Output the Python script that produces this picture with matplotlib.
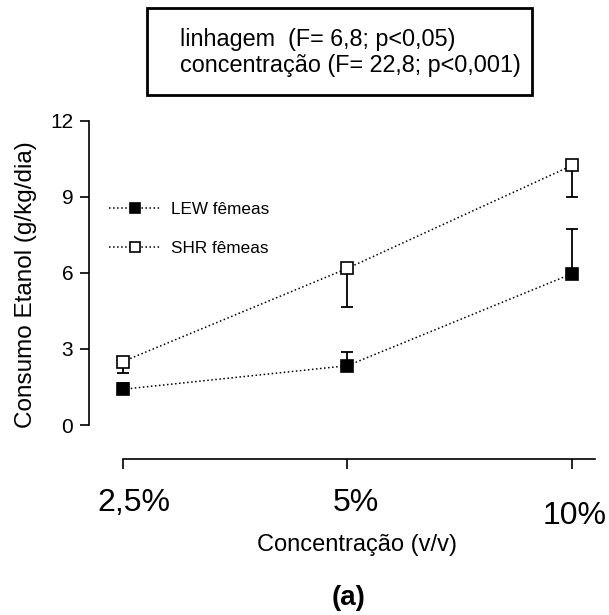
#!/usr/bin/env python3
"""Consumo de etanol por concentracao, LEW vs SHR femeas."""

import matplotlib

matplotlib.use("Agg")
import matplotlib.pyplot as plt
from matplotlib.patches import Rectangle
from matplotlib.transforms import ScaledTranslation

plt.rcParams["font.family"] = ["Liberation Sans", "DejaVu Sans"]

concentracoes = ["2,5%", "5%", "10%"]
lew_media = [1.41, 2.34, 5.97]
lew_erro = [0.26, 0.55, 1.77]
shr_media = [2.50, 6.18, 10.24]
shr_erro = [0.46, 1.51, 1.25]
y_ticks = [0, 3, 6, 9, 12]

fig = plt.figure(figsize=(6.09, 6.15), dpi=100)
ax = fig.add_axes((0.1466, 0.3089, 0.8304, 0.4948))

xs = list(range(len(concentracoes)))
zeros = [0] * len(xs)

ax.errorbar(xs, lew_media, yerr=[zeros, lew_erro], fmt="none", ecolor="black",
            elinewidth=1.3, capsize=4.5, capthick=1.3, clip_on=False, zorder=2)
ax.errorbar(xs, shr_media, yerr=[shr_erro, zeros], fmt="none", ecolor="black",
            elinewidth=1.3, capsize=4.5, capthick=1.3, clip_on=False, zorder=2)

ax.plot(xs, lew_media, ls=":", lw=1.1, color="black", marker="s", ms=8.5,
        mfc="black", mec="black", mew=1.2, clip_on=False, zorder=3, label="LEW fêmeas")
ax.plot(xs, shr_media, ls=":", lw=1.1, color="black", marker="s", ms=8.5,
        mfc="white", mec="black", mew=1.2, clip_on=False, zorder=3, label="SHR fêmeas")

ax.set_xlim(-0.1486, 2.1014)
ax.set_ylim(0, 12)
ax.set_yticks(y_ticks)
ax.set_xticks(xs)
ax.set_xticklabels(concentracoes)

for side in ("top", "right"):
    ax.spines[side].set_visible(False)
ax.spines["left"].set_bounds(0, 12)
ax.spines["left"].set_linewidth(1.2)
ax.spines["bottom"].set_position(("outward", 24.5))
ax.spines["bottom"].set_bounds(0, 2.1014)
ax.spines["bottom"].set_linewidth(1.2)

ax.tick_params(axis="y", direction="out", length=6.5, width=1.2, labelsize=15, pad=5)
ax.tick_params(axis="x", direction="out", length=7.2, width=1.2, labelsize=23, pad=14)

# os rotulos do eixo x nao ficam exatamente centrados no original
offsets_px = [(11, 0), (8, 0), (2, -13)]
for label, (dx, dy) in zip(ax.get_xticklabels(), offsets_px):
    label.set_transform(label.get_transform()
                        + ScaledTranslation(dx / 100, dy / 100, fig.dpi_scale_trans))

ax.legend(loc="upper left", bbox_to_anchor=(0.026, 0.754), frameon=False,
          fontsize=12.3, handlelength=3.0, handletextpad=0.6, numpoints=1,
          markerscale=0.8, labelspacing=1.38, borderaxespad=0)

fig.text(0.043, 0.5366, "Consumo Etanol (g/kg/dia)", rotation=90, fontsize=17.5,
         ha="center", va="center")
fig.text(0.586, 0.1138, "Concentração (v/v)", fontsize=17, ha="center", va="center")
fig.text(0.573, 0.0276, "(a)", fontsize=20, fontweight="bold", ha="center", va="center")

fig.patches.append(Rectangle((0.2414, 0.8455), 0.632, 0.1415, transform=fig.transFigure,
                             fill=False, edgecolor="black", linewidth=2))
fig.text(0.2956, 0.935, "linhagem  (F= 6,8; p<0,05)", fontsize=16.8, ha="left", va="center")
fig.text(0.2956, 0.8935, "concentração (F= 22,8; p<0,001)", fontsize=16.8, ha="left", va="center")

fig.savefig("out.png", dpi=100)
